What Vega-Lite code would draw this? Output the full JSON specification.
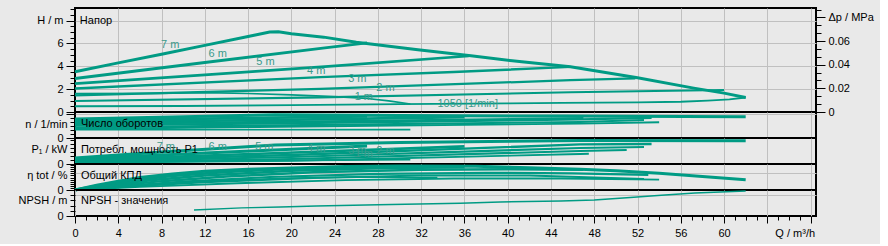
{
  "$schema": "https://vega.github.io/schema/vega-lite/v6.json",
  "background": "#e9e9e9",
  "padding": {"left": 17, "top": 2, "right": 5, "bottom": 5},
  "spacing": 0,
  "bounds": "flush",
  "config": {
    "view": {"stroke": "#000000", "strokeWidth": 2},
    "axis": {"labelFont": "Liberation Sans", "labelFontSize": 11, "labelColor": "#000000", "tickColor": "#000000", "gridColor": "#c0c0c0", "gridWidth": 1, "domain": false, "title": null, "labelOverlap": false, "labelFlush": false, "minExtent": 0, "ticks": true},
    "text": {"font": "Liberation Sans", "fontSize": 11},
    "line": {"color": "#009b84", "strokeCap": "butt", "strokeJoin": "miter"}
  },
  "datasets": {
    "curves": [
      {"p":"H","id":"6m","Q":0,"v":2.93},{"p":"H","id":"6m","Q":12,"v":4.33},{"p":"H","id":"6m","Q":23.1,"v":5.62},{"p":"H","id":"6m","Q":27,"v":6.05},
      {"p":"H","id":"5m","Q":0,"v":2.48},{"p":"H","id":"5m","Q":12,"v":3.25},{"p":"H","id":"5m","Q":23.1,"v":3.97},{"p":"H","id":"5m","Q":36.4,"v":4.9},
      {"p":"H","id":"4m","Q":0,"v":2.06},{"p":"H","id":"4m","Q":22.7,"v":3.05},{"p":"H","id":"4m","Q":35,"v":3.5},{"p":"H","id":"4m","Q":45.8,"v":3.95},
      {"p":"H","id":"3m","Q":0,"v":1.45},{"p":"H","id":"3m","Q":22.7,"v":2.03},{"p":"H","id":"3m","Q":45.8,"v":2.78},{"p":"H","id":"3m","Q":51.8,"v":2.95},
      {"p":"H","id":"2m","Q":0,"v":0.96},{"p":"H","id":"2m","Q":22.7,"v":1.28},{"p":"H","id":"2m","Q":45.8,"v":1.72},{"p":"H","id":"2m","Q":52,"v":1.82},{"p":"H","id":"2m","Q":60,"v":1.93},
      {"p":"H","id":"n1050","Q":0,"v":1.61},{"p":"H","id":"n1050","Q":7.7,"v":1.63},{"p":"H","id":"n1050","Q":12,"v":1.7},{"p":"H","id":"n1050","Q":16,"v":1.62},{"p":"H","id":"n1050","Q":20,"v":1.5},{"p":"H","id":"n1050","Q":24,"v":1.35},{"p":"H","id":"n1050","Q":27,"v":1.18},{"p":"H","id":"n1050","Q":29,"v":0.98},{"p":"H","id":"n1050","Q":31,"v":0.7},
      {"p":"H","id":"1m","Q":0,"v":0.5},{"p":"H","id":"1m","Q":10,"v":0.53},{"p":"H","id":"1m","Q":20,"v":0.6},{"p":"H","id":"1m","Q":30,"v":0.69},{"p":"H","id":"1m","Q":40,"v":0.75},{"p":"H","id":"1m","Q":45,"v":0.8},{"p":"H","id":"1m","Q":52,"v":0.84},{"p":"H","id":"1m","Q":56,"v":0.9},{"p":"H","id":"1m","Q":58.5,"v":1.0},{"p":"H","id":"1m","Q":60.5,"v":1.1},{"p":"H","id":"1m","Q":62,"v":1.27},
      {"p":"H","id":"max","Q":0,"v":3.52},{"p":"H","id":"max","Q":4,"v":4.3},{"p":"H","id":"max","Q":8,"v":5.06},{"p":"H","id":"max","Q":12,"v":5.83},{"p":"H","id":"max","Q":16,"v":6.6},{"p":"H","id":"max","Q":18,"v":7.0},{"p":"H","id":"max","Q":18.8,"v":7.02},{"p":"H","id":"max","Q":20,"v":6.85},{"p":"H","id":"max","Q":23,"v":6.55},{"p":"H","id":"max","Q":26,"v":6.1},{"p":"H","id":"max","Q":31.7,"v":5.44},{"p":"H","id":"max","Q":36.6,"v":4.93},{"p":"H","id":"max","Q":41.3,"v":4.39},{"p":"H","id":"max","Q":45.8,"v":3.95},{"p":"H","id":"max","Q":52,"v":2.99},{"p":"H","id":"max","Q":57.2,"v":2.09},{"p":"H","id":"max","Q":60,"v":1.65},{"p":"H","id":"max","Q":62,"v":1.27},

      {"p":"n","id":"6m","Q":0,"v":2200},{"p":"n","id":"6m","Q":12,"v":2450},{"p":"n","id":"6m","Q":27,"v":2750},
      {"p":"n","id":"5m","Q":0,"v":2000},{"p":"n","id":"5m","Q":19,"v":2300},{"p":"n","id":"5m","Q":36,"v":2650},
      {"p":"n","id":"4m","Q":0,"v":1800},{"p":"n","id":"4m","Q":19,"v":2050},{"p":"n","id":"4m","Q":47,"v":2500},
      {"p":"n","id":"3m","Q":0,"v":1600},{"p":"n","id":"3m","Q":19,"v":1850},{"p":"n","id":"3m","Q":46.7,"v":2350},{"p":"n","id":"3m","Q":53.3,"v":2550},
      {"p":"n","id":"2m","Q":0,"v":1350},{"p":"n","id":"2m","Q":19,"v":1600},{"p":"n","id":"2m","Q":46.7,"v":2030},{"p":"n","id":"2m","Q":52.6,"v":2290},
      {"p":"n","id":"n1050","Q":0,"v":1050},{"p":"n","id":"n1050","Q":31,"v":1060},
      {"p":"n","id":"1m","Q":0,"v":1150},{"p":"n","id":"1m","Q":19,"v":1420},{"p":"n","id":"1m","Q":46.7,"v":1820},{"p":"n","id":"1m","Q":54,"v":2000},
      {"p":"n","id":"max","Q":0,"v":2400},{"p":"n","id":"max","Q":9,"v":2680},{"p":"n","id":"max","Q":18.5,"v":2950},{"p":"n","id":"max","Q":30,"v":2850},{"p":"n","id":"max","Q":45,"v":2780},{"p":"n","id":"max","Q":62,"v":2700},

      {"p":"P","id":"6m","Q":0,"v":0.025},{"p":"P","id":"6m","Q":12,"v":0.055},{"p":"P","id":"6m","Q":27,"v":0.09},
      {"p":"P","id":"5m","Q":0,"v":0.02},{"p":"P","id":"5m","Q":19,"v":0.055},{"p":"P","id":"5m","Q":36,"v":0.088},
      {"p":"P","id":"4m","Q":0,"v":0.016},{"p":"P","id":"4m","Q":20,"v":0.045},{"p":"P","id":"4m","Q":46.7,"v":0.098},{"p":"P","id":"4m","Q":53.3,"v":0.1},
      {"p":"P","id":"3m","Q":0,"v":0.012},{"p":"P","id":"3m","Q":20,"v":0.035},{"p":"P","id":"3m","Q":46.7,"v":0.08},{"p":"P","id":"3m","Q":52.6,"v":0.085},
      {"p":"P","id":"2m","Q":0,"v":0.009},{"p":"P","id":"2m","Q":20,"v":0.025},{"p":"P","id":"2m","Q":46.7,"v":0.065},{"p":"P","id":"2m","Q":51,"v":0.07},
      {"p":"P","id":"n1050","Q":0,"v":0.008},{"p":"P","id":"n1050","Q":15,"v":0.016},{"p":"P","id":"n1050","Q":31,"v":0.022},
      {"p":"P","id":"1m","Q":0,"v":0.006},{"p":"P","id":"1m","Q":20,"v":0.016},{"p":"P","id":"1m","Q":46.7,"v":0.05},{"p":"P","id":"1m","Q":47.5,"v":0.051},
      {"p":"P","id":"max","Q":0,"v":0.03},{"p":"P","id":"max","Q":8,"v":0.06},{"p":"P","id":"max","Q":18.5,"v":0.095},{"p":"P","id":"max","Q":30,"v":0.108},{"p":"P","id":"max","Q":46.7,"v":0.118},{"p":"P","id":"max","Q":62,"v":0.116},

      {"p":"eta","id":"6m","Q":0,"v":0},{"p":"eta","id":"6m","Q":2,"v":8},{"p":"eta","id":"6m","Q":5,"v":18},{"p":"eta","id":"6m","Q":9,"v":27},{"p":"eta","id":"6m","Q":14,"v":35},{"p":"eta","id":"6m","Q":20,"v":41},{"p":"eta","id":"6m","Q":27,"v":44},
      {"p":"eta","id":"5m","Q":0,"v":0},{"p":"eta","id":"5m","Q":3,"v":9},{"p":"eta","id":"5m","Q":7,"v":19},{"p":"eta","id":"5m","Q":12,"v":28},{"p":"eta","id":"5m","Q":20,"v":37},{"p":"eta","id":"5m","Q":28,"v":42},{"p":"eta","id":"5m","Q":36,"v":44},
      {"p":"eta","id":"4m","Q":0,"v":0},{"p":"eta","id":"4m","Q":3,"v":7},{"p":"eta","id":"4m","Q":8,"v":17},{"p":"eta","id":"4m","Q":14,"v":26},{"p":"eta","id":"4m","Q":22,"v":34},{"p":"eta","id":"4m","Q":32,"v":39},{"p":"eta","id":"4m","Q":40,"v":40},{"p":"eta","id":"4m","Q":47,"v":39},
      {"p":"eta","id":"3m","Q":0,"v":0},{"p":"eta","id":"3m","Q":4,"v":7},{"p":"eta","id":"3m","Q":10,"v":16},{"p":"eta","id":"3m","Q":18,"v":25},{"p":"eta","id":"3m","Q":28,"v":31},{"p":"eta","id":"3m","Q":38,"v":33},{"p":"eta","id":"3m","Q":46,"v":32},{"p":"eta","id":"3m","Q":53,"v":29},
      {"p":"eta","id":"2m","Q":0,"v":0},{"p":"eta","id":"2m","Q":5,"v":7},{"p":"eta","id":"2m","Q":12,"v":15},{"p":"eta","id":"2m","Q":22,"v":23},{"p":"eta","id":"2m","Q":32,"v":28},{"p":"eta","id":"2m","Q":42,"v":28},{"p":"eta","id":"2m","Q":52.6,"v":21},
      {"p":"eta","id":"n1050","Q":0,"v":0},{"p":"eta","id":"n1050","Q":5,"v":8},{"p":"eta","id":"n1050","Q":12,"v":17},{"p":"eta","id":"n1050","Q":20,"v":23},{"p":"eta","id":"n1050","Q":26,"v":25},{"p":"eta","id":"n1050","Q":31,"v":24},{"p":"eta","id":"n1050","Q":33.5,"v":23.7},
      {"p":"eta","id":"1m","Q":0,"v":0},{"p":"eta","id":"1m","Q":6,"v":6},{"p":"eta","id":"1m","Q":15,"v":13},{"p":"eta","id":"1m","Q":25,"v":19},{"p":"eta","id":"1m","Q":35,"v":22},{"p":"eta","id":"1m","Q":45,"v":22},{"p":"eta","id":"1m","Q":54,"v":20},
      {"p":"eta","id":"max","Q":0,"v":0},{"p":"eta","id":"max","Q":2,"v":9},{"p":"eta","id":"max","Q":4,"v":17},{"p":"eta","id":"max","Q":6,"v":24},{"p":"eta","id":"max","Q":9,"v":31},{"p":"eta","id":"max","Q":12,"v":36},{"p":"eta","id":"max","Q":16,"v":40},{"p":"eta","id":"max","Q":20.8,"v":43},{"p":"eta","id":"max","Q":25,"v":45},{"p":"eta","id":"max","Q":30,"v":46},{"p":"eta","id":"max","Q":37,"v":45.5},{"p":"eta","id":"max","Q":42,"v":43},{"p":"eta","id":"max","Q":46.7,"v":40},{"p":"eta","id":"max","Q":50,"v":37},{"p":"eta","id":"max","Q":54,"v":32},{"p":"eta","id":"max","Q":58,"v":26},{"p":"eta","id":"max","Q":62,"v":19.5},

      {"p":"npsh","id":"npsh","Q":11,"v":0.92},{"p":"npsh","id":"npsh","Q":15.4,"v":1.25},{"p":"npsh","id":"npsh","Q":19,"v":1.38},{"p":"npsh","id":"npsh","Q":22.3,"v":1.54},{"p":"npsh","id":"npsh","Q":28,"v":1.72},{"p":"npsh","id":"npsh","Q":35.6,"v":1.95},{"p":"npsh","id":"npsh","Q":39.3,"v":2.15},{"p":"npsh","id":"npsh","Q":44.9,"v":2.3},{"p":"npsh","id":"npsh","Q":48,"v":2.46},{"p":"npsh","id":"npsh","Q":51,"v":2.8},{"p":"npsh","id":"npsh","Q":54.2,"v":3.2},{"p":"npsh","id":"npsh","Q":57.3,"v":3.54},{"p":"npsh","id":"npsh","Q":62,"v":3.85}
    ],
    "captions": [
      {"p":"H","Q":0.45,"v":7.96,"t":"Напор"},
      {"p":"n","Q":0.55,"v":1777,"t":"Число оборотов"},
      {"p":"P","Q":0.55,"v":0.07,"t":"Потребл. мощность P1"},
      {"p":"eta","Q":0.55,"v":27.5,"t":"Общий КПД"},
      {"p":"npsh","Q":0.55,"v":2.26,"t":"NPSH  - значения"}
    ],
    "curvelabels": [
      {"p":"H","Q":8.8,"v":5.84,"t":"7 m"},
      {"p":"H","Q":13.2,"v":5.05,"t":"6 m"},
      {"p":"H","Q":17.6,"v":4.37,"t":"5 m"},
      {"p":"H","Q":22.3,"v":3.59,"t":"4 m"},
      {"p":"H","Q":26.1,"v":2.91,"t":"3 m"},
      {"p":"H","Q":28.7,"v":2.13,"t":"2 m"},
      {"p":"H","Q":26.7,"v":1.34,"t":"1 m"},
      {"p":"H","Q":36.3,"v":0.67,"t":"1050 [1/min]"},
      {"p":"P","Q":8.4,"v":0.0835,"t":"7 m"},
      {"p":"P","Q":13.2,"v":0.0835,"t":"6 m"},
      {"p":"P","Q":17.5,"v":0.0835,"t":"5 m"},
      {"p":"P","Q":22.3,"v":0.0735,"t":"4 m"},
      {"p":"P","Q":26.1,"v":0.065,"t":"3 m"},
      {"p":"P","Q":26.7,"v":0.05,"t":"1 m"},
      {"p":"P","Q":28.7,"v":0.065,"t":"2 m"}
    ],
    "dp": [{"dp": 0}]
  },
  "vconcat": [
    {
      "width": 741, "height": 104,
      "layer": [
        {
          "encoding": {
            "x": {"field": "Q", "type": "quantitative", "scale": {"domain": [0, 68.5], "nice": false, "zero": false},
              "axis": {"values": [4,8,12,16,20,24,28,32,36,40,44,48,52,56,60,64,68], "labels": false, "ticks": false, "grid": true}},
            "y": {"field": "v", "type": "quantitative", "scale": {"domain": [0, 9.1], "nice": false},
              "axis": {"values": [0,0.5,1,1.5,2,2.5,3,3.5,4,4.5,5,5.5,6,6.5,7,7.5,8,8.5,9],
                "labelExpr": "datum.value == 8 ? 'H / m' : (datum.value % 2 == 0 ? format(datum.value, 'd') : '')",
                "ticks": true,
                "tickSize": {"condition": {"test": "datum.value % 2 == 0", "value": 9}, "value": 5},
                "labelOverlap": false,
                "labelPadding": 3, "grid": true,
                "gridOpacity": {"condition": {"test": "datum.value % 2 == 0 && datum.value > 0", "value": 1}, "value": 0}}}
          },
          "layer": [
            {
              "data": {"name": "curves"},
              "transform": [{"filter": "datum.p == 'H'"}],
              "mark": {"type": "line", "color": "#009b84"},
              "encoding": {
                "detail": {"field": "id"},
                "strokeWidth": {"field": "id", "type": "nominal", "scale": {"domain": ["max","6m","5m","4m","3m","2m","1m","n1050","npsh"], "range": [3,1.5,1.5,1.5,1.5,1.5,3,1.5,3]}, "legend": null}
              }
            },
            {
              "data": {"name": "captions"},
              "transform": [{"filter": "datum.p == 'H'"}],
              "mark": {"type": "text", "align": "left", "baseline": "middle", "color": "#000000"},
              "encoding": {"text": {"field": "t"}}
            },
            {
              "data": {"name": "curvelabels"},
              "transform": [{"filter": "datum.p == 'H'"}],
              "mark": {"type": "text", "align": "center", "baseline": "middle", "color": "#3a9a8b"},
              "encoding": {"text": {"field": "t"}}
            }
          ]
        },
        {
          "data": {"name": "dp"},
          "mark": {"type": "point", "opacity": 0},
          "encoding": {
            "y": {"field": "dp", "type": "quantitative", "scale": {"domain": [0, 0.088], "nice": false},
              "axis": {"orient": "right", "values": [0,0.0067,0.0133,0.02,0.0267,0.0333,0.04,0.0467,0.0533,0.06,0.0667,0.0733,0.08,0.0867],
                "labelExpr": "datum.value == 0 ? '0' : (datum.value == 0.02 || datum.value == 0.04 || datum.value == 0.06) ? format(datum.value, '.2f') : (datum.value == 0.08 ? 'Δp / MPa' : '')",
                "tickSize": {"condition": {"test": "datum.value == 0 || datum.value == 0.02 || datum.value == 0.04 || datum.value == 0.06 || datum.value == 0.08", "value": 9}, "value": 5},
                "labelOverlap": false,
                "labelPadding": 3, "grid": false}}
          }
        }
      ],
      "resolve": {"scale": {"y": "independent"}, "axis": {"y": "independent"}}
    },
    {
      "width": 741, "height": 26,
      "encoding": {
        "x": {"field": "Q", "type": "quantitative", "scale": {"domain": [0, 68.5], "nice": false, "zero": false},
          "axis": {"values": [4,8,12,16,20,24,28,32,36,40,44,48,52,56,60,64,68], "labels": false, "ticks": false, "grid": true}},
        "y": {"field": "v", "type": "quantitative", "scale": {"domain": [0, 3300], "nice": false},
          "axis": {"values": [0,500,1000,1500,1750,2000,2500,3000],
            "labelExpr": "datum.value == 0 ? '0' : (datum.value == 1750 ? 'n / 1/min' : '')",
            "ticks": true,
            "tickSize": {"condition": {"test": "datum.value == 0 || datum.value == 3000", "value": 9}, "value": 5},
            "labelOverlap": false,
            "tickOpacity": {"condition": {"test": "datum.value == 1750", "value": 0}, "value": 1},
            "labelPadding": 3, "grid": true,
            "gridOpacity": {"condition": {"test": "datum.value == 3000", "value": 1}, "value": 0}}}
      },
      "layer": [
        {
          "data": {"name": "curves"},
          "transform": [{"filter": "datum.p == 'n'"}],
          "mark": {"type": "line", "color": "#009b84"},
          "encoding": {
            "detail": {"field": "id"},
            "strokeWidth": {"field": "id", "type": "nominal", "scale": {"domain": ["max","6m","5m","4m","3m","2m","1m","n1050","npsh"], "range": [3,1.5,1.5,1.5,1.5,1.5,3,1.5,3]}, "legend": null}
          }
        },
        {
          "data": {"name": "captions"},
          "transform": [{"filter": "datum.p == 'n'"}],
          "mark": {"type": "text", "align": "left", "baseline": "middle", "color": "#000000"},
          "encoding": {"text": {"field": "t"}}
        }
      ]
    },
    {
      "width": 741, "height": 26,
      "encoding": {
        "x": {"field": "Q", "type": "quantitative", "scale": {"domain": [0, 68.5], "nice": false, "zero": false},
          "axis": {"values": [4,8,12,16,20,24,28,32,36,40,44,48,52,56,60,64,68], "labels": false, "ticks": false, "grid": true}},
        "y": {"field": "v", "type": "quantitative", "scale": {"domain": [0, 0.13], "nice": false},
          "axis": {"values": [0,0.02,0.04,0.06,0.075,0.08,0.1,0.12],
            "labelExpr": "datum.value == 0 ? '0' : (datum.value == 0.075 ? 'P₁ / kW' : '')",
            "ticks": true,
            "tickSize": {"condition": {"test": "datum.value == 0", "value": 9}, "value": 5},
            "labelOverlap": false,
            "tickOpacity": {"condition": {"test": "datum.value == 0.075", "value": 0}, "value": 1},
            "labelPadding": 3, "grid": false}}
      },
      "layer": [
        {
          "data": {"name": "curves"},
          "transform": [{"filter": "datum.p == 'P'"}],
          "mark": {"type": "line", "color": "#009b84"},
          "encoding": {
            "detail": {"field": "id"},
            "strokeWidth": {"field": "id", "type": "nominal", "scale": {"domain": ["max","6m","5m","4m","3m","2m","1m","n1050","npsh"], "range": [3,1.5,1.5,1.5,1.5,1.5,3,1.5,3]}, "legend": null}
          }
        },
        {
          "data": {"name": "captions"},
          "transform": [{"filter": "datum.p == 'P'"}],
          "mark": {"type": "text", "align": "left", "baseline": "middle", "color": "#000000"},
          "encoding": {"text": {"field": "t"}}
        },
        {
          "data": {"name": "curvelabels"},
          "transform": [{"filter": "datum.p == 'P'"}],
          "mark": {"type": "text", "align": "center", "baseline": "middle", "color": "#3a9a8b"},
          "encoding": {"text": {"field": "t"}}
        }
      ]
    },
    {
      "width": 741, "height": 26,
      "encoding": {
        "x": {"field": "Q", "type": "quantitative", "scale": {"domain": [0, 68.5], "nice": false, "zero": false},
          "axis": {"values": [4,8,12,16,20,24,28,32,36,40,44,48,52,56,60,64,68], "labels": false, "ticks": false, "grid": true}},
        "y": {"field": "v", "type": "quantitative", "scale": {"domain": [0, 50], "nice": false},
          "axis": {"values": [0,4,8,12,16,20,24,28,32,36,40,44,48],
            "labelExpr": "datum.value == 0 ? '0' : (datum.value == 28 ? 'η tot  / %' : '')",
            "ticks": true,
            "tickSize": {"condition": {"test": "datum.value == 0", "value": 9}, "value": 5},
            "labelOverlap": false,
            "labelPadding": 3, "grid": true,
            "gridOpacity": {"condition": {"test": "datum.value == 32", "value": 1}, "value": 0}}}
      },
      "layer": [
        {
          "data": {"name": "curves"},
          "transform": [{"filter": "datum.p == 'eta'"}],
          "mark": {"type": "line", "color": "#009b84"},
          "encoding": {
            "detail": {"field": "id"},
            "strokeWidth": {"field": "id", "type": "nominal", "scale": {"domain": ["max","6m","5m","4m","3m","2m","1m","n1050","npsh"], "range": [3,1.5,1.5,1.5,1.5,1.5,3,1.5,3]}, "legend": null}
          }
        },
        {
          "data": {"name": "captions"},
          "transform": [{"filter": "datum.p == 'eta'"}],
          "mark": {"type": "text", "align": "left", "baseline": "middle", "color": "#000000"},
          "encoding": {"text": {"field": "t"}}
        }
      ]
    },
    {
      "width": 741, "height": 26,
      "encoding": {
        "x": {"field": "Q", "type": "quantitative", "scale": {"domain": [0, 68.5], "nice": false, "zero": false},
          "axis": {"values": [0,1,2,3,4,5,6,7,8,9,10,11,12,13,14,15,16,17,18,19,20,21,22,23,24,25,26,27,28,29,30,31,32,33,34,35,36,37,38,39,40,41,42,43,44,45,46,47,48,49,50,51,52,53,54,55,56,57,58,59,60,61,62,63,64,65,66,67,68],
            "labelExpr": "datum.value == 68 ? 'Q / m³/h' : (datum.value % 4 == 0 && datum.value < 64 ? datum.label : '')",
            "tickSize": {"condition": {"test": "datum.value % 4 == 0", "value": 7}, "value": 4},
            "labelOverlap": false,
            "labelAlign": {"condition": {"test": "datum.value == 68", "value": "right"}, "value": "center"},
            "labelOffset": {"condition": {"test": "datum.value == 68", "value": 4}, "value": 0},
            "labelPadding": 4, "grid": true,
            "gridOpacity": {"condition": {"test": "datum.value % 4 == 0", "value": 1}, "value": 0}}},
        "y": {"field": "v", "type": "quantitative", "scale": {"domain": [0, 4], "nice": false},
          "axis": {"values": [0,0.8,1.6,2.4,3.2],
            "labelExpr": "datum.value == 0 ? '0' : (datum.value == 2.4 ? 'NPSH / m' : '')",
            "ticks": true,
            "tickSize": {"condition": {"test": "datum.value == 0", "value": 9}, "value": 5},
            "labelOverlap": false,
            "labelPadding": 3, "grid": true,
            "gridOpacity": {"condition": {"test": "datum.value == 3.2", "value": 1}, "value": 0}}}
      },
      "layer": [
        {
          "data": {"name": "curves"},
          "transform": [{"filter": "datum.p == 'npsh'"}],
          "mark": {"type": "line", "color": "#009b84"},
          "encoding": {
            "detail": {"field": "id"},
            "strokeWidth": {"field": "id", "type": "nominal", "scale": {"domain": ["max","6m","5m","4m","3m","2m","1m","n1050","npsh"], "range": [3,1.5,1.5,1.5,1.5,1.5,3,1.5,3]}, "legend": null}
          }
        },
        {
          "data": {"name": "captions"},
          "transform": [{"filter": "datum.p == 'npsh'"}],
          "mark": {"type": "text", "align": "left", "baseline": "middle", "color": "#000000"},
          "encoding": {"text": {"field": "t"}}
        }
      ]
    }
  ]
}
